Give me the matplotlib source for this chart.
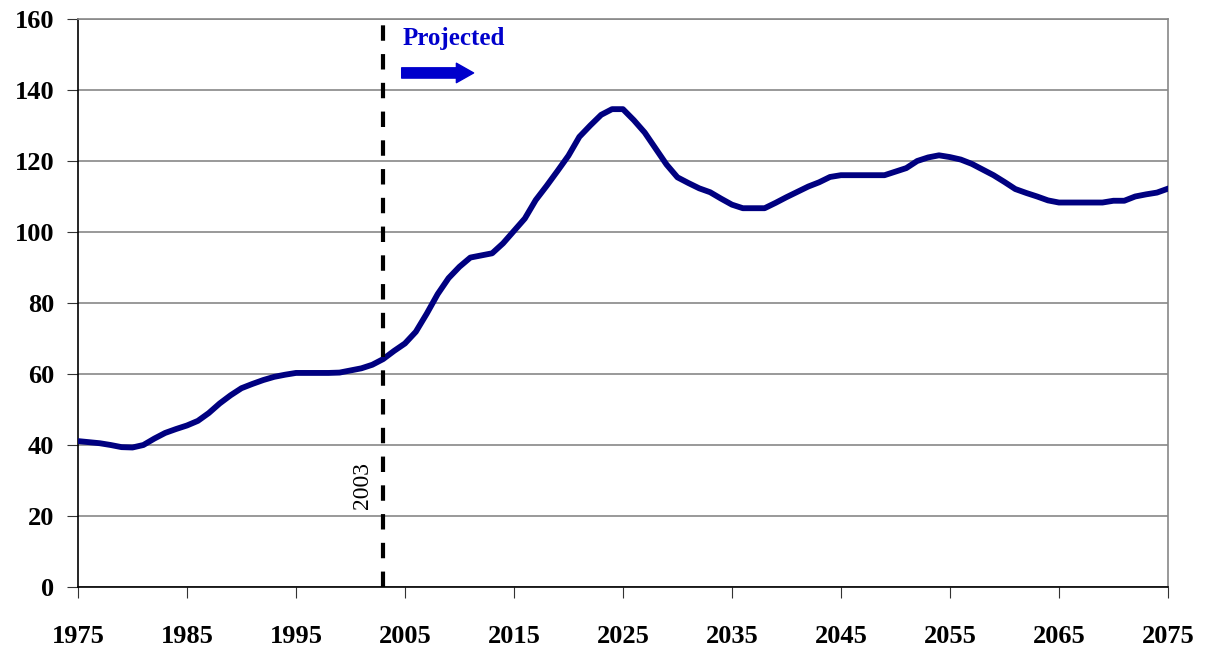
import numpy as np
import matplotlib
matplotlib.use("Agg")
import matplotlib.pyplot as plt

# annual values
years = np.arange(1975, 2076)
values = [
    41.1, 40.8, 40.5, 40.0, 39.4, 39.3, 40.0, 41.8, 43.4, 44.5,   # 1975-1984
    45.5, 46.8, 49.0, 51.7, 54.0, 56.0, 57.2, 58.3, 59.2, 59.8,   # 1985-1994
    60.3, 60.3, 60.3, 60.3, 60.4, 61.0, 61.6, 62.6, 64.2, 66.5,   # 1995-2004
    68.6, 71.9, 77.0, 82.5, 87.0, 90.2, 92.8, 93.4, 94.0, 96.8,   # 2005-2014
    100.3, 103.8, 109.0, 113.0, 117.2, 121.5, 126.8, 130.0, 133.0, 134.6,  # 2015-2024
    134.6, 131.5, 128.0, 123.5, 119.0, 115.4, 113.8, 112.3, 111.2, 109.4,  # 2025-2034
    107.7, 106.7, 106.7, 106.7, 108.2, 109.8, 111.3, 112.8, 114.0, 115.5,  # 2035-2044
    116.0, 116.0, 116.0, 116.0, 116.0, 117.0, 118.0, 120.0, 121.0, 121.6,  # 2045-2054
    121.1, 120.4, 119.2, 117.6, 116.0, 114.1, 112.1, 111.0, 110.0, 108.9,  # 2055-2064
    108.3, 108.3, 108.3, 108.3, 108.3, 108.8, 108.8, 110.0, 110.6, 111.1,  # 2065-2074
    112.2,                                                          # 2075
]
xticks = list(range(1975, 2076, 10))
yticks = list(range(0, 161, 20))
split_year = 2003

plt.rcParams['font.family'] = ['Liberation Serif', 'DejaVu Serif']

fig = plt.figure(figsize=(12.09, 6.5), dpi=100)
ax = fig.add_axes([0.0645, 0.0969, 0.9015, 0.8739])

ax.plot(years, values, color='#000080', lw=4.2, solid_joinstyle='round', zorder=3)
ax.axvline(split_year, color='black', lw=3, dashes=(3.7, 3.2), zorder=4)

ax.text(split_year - 1.9, 28.7, str(split_year), rotation=90, fontsize=17,
        ha='center', va='center')
ax.text(2004.8, 154.4, 'Projected', fontsize=18, fontweight='bold',
        color='#0000CC', ha='left', va='center')
ax.annotate('', xy=(2011.3, 144.8), xytext=(2004.7, 144.8),
            arrowprops=dict(arrowstyle='simple,head_length=0.62,head_width=0.7,tail_width=0.37',
                            mutation_scale=20, color='#0000CC', shrinkA=0, shrinkB=0))

ax.set_xlim(1975, 2075)
ax.set_ylim(0, 160)
ax.set_xticks(xticks)
ax.set_yticks(yticks)
ax.grid(axis='y', color='#888888', lw=1.2)
ax.set_axisbelow(True)

for lab in ax.get_xticklabels() + ax.get_yticklabels():
    lab.set_fontweight('bold')
ax.tick_params(axis='x', labelsize=19, length=8, direction='out', pad=19, color='#333333')
ax.tick_params(axis='y', labelsize=19, length=8, direction='out', pad=9, color='#333333')

ax.spines['left'].set_color('black')
ax.spines['bottom'].set_color('black')
ax.spines['top'].set_color('#888888')
ax.spines['right'].set_color('#888888')
for s in ax.spines.values():
    s.set_linewidth(1.2)

fig.savefig('out.png', dpi=100)
